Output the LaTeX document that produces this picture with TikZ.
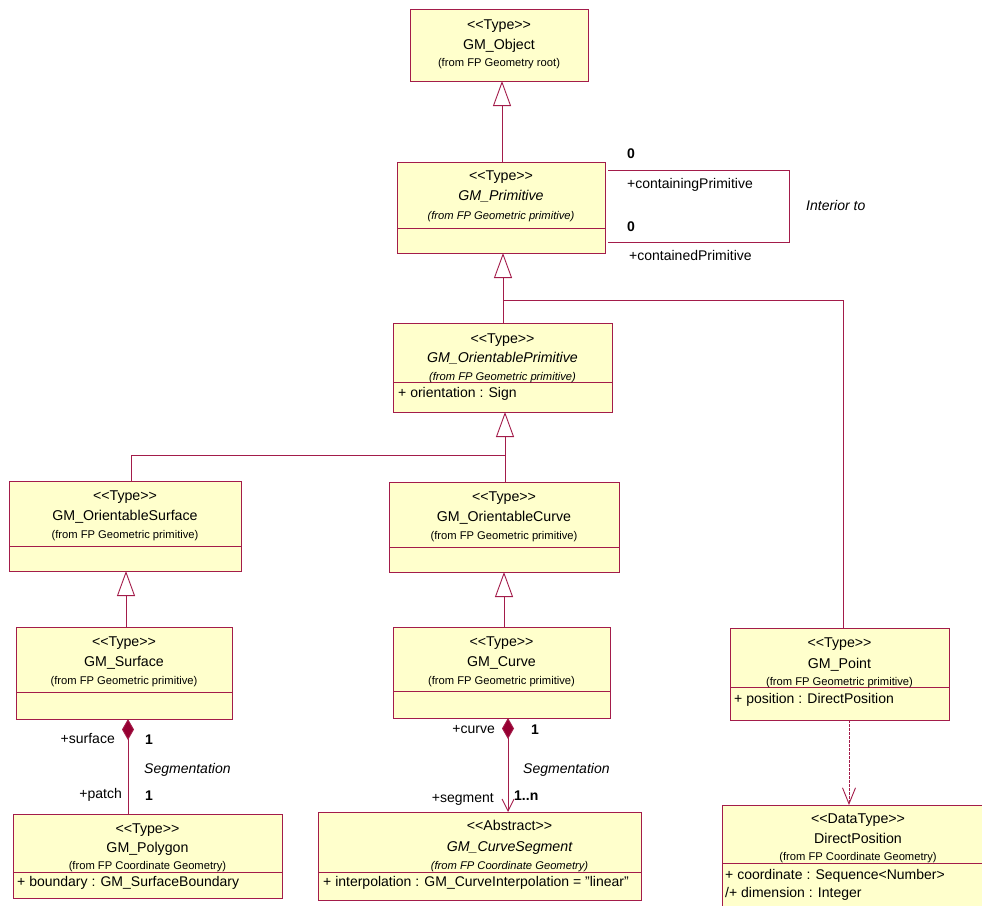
\documentclass[tikz,border=0pt]{standalone}
\usepackage{fontspec}
\setmainfont{Liberation Sans}
\usetikzlibrary{arrows.meta,calc}

\definecolor{umlline}{RGB}{163,28,74}
\definecolor{umlfill}{RGB}{255,255,204}
\definecolor{umldiamond}{RGB}{150,0,50}

% font sizes (1pt = 1 unit of the picture)
\newcommand\ftname{\fontsize{14.2}{16}\selectfont}
\newcommand\ftfrom{\fontsize{11.2}{12}\selectfont}
\newcommand\ftattr{\fontsize{14}{16}\selectfont}
% guillemet-free stereotype brackets
\newcommand\stereo[1]{<\kern0pt<#1>\kern0pt>}

\begin{document}
\begin{tikzpicture}[x=1pt,y=-1pt,
  classbox/.style={draw=umlline,fill=umlfill,line width=1pt,inner sep=0pt,outer sep=0pt,anchor=north west},
  sep/.style={draw=umlline,line width=0.9pt},
  txt/.style={inner sep=0pt,anchor=base},
  txtl/.style={inner sep=0pt,anchor=base west},
  txtr/.style={inner sep=0pt,anchor=base east},
  edge/.style={draw=umlline,line width=0.9pt},
  gen/.style={edge,-{Triangle[length=25pt,width=18pt,fill=white]}},
  compo/.style={edge,{Diamond[length=21pt,width=12pt,fill=umldiamond]}-},
  compnav/.style={edge,{Diamond[length=21pt,width=12pt,fill=umldiamond]}-{Straight Barb[length=12pt,width=12pt]}},
  dep/.style={edge,dash pattern=on 2.5pt off 1.5pt,-{Straight Barb[length=16pt,width=13pt]}},
  mult/.style={txtl,font=\ftattr\bfseries},
  role/.style={font=\ftattr},
]
\useasboundingbox (0,0) rectangle (982,905);
\clip (0,0) rectangle (982,905);

% ---------- class boxes ----------
\node[classbox,minimum width=178,minimum height=72] (obj)    at (410,9)   {};
\node[classbox,minimum width=208,minimum height=91] (prim)   at (397,162) {};
\node[classbox,minimum width=219,minimum height=89] (oprim)  at (393,323) {};
\node[classbox,minimum width=232,minimum height=90] (osurf)  at (9,481)   {};
\node[classbox,minimum width=230,minimum height=90] (ocurve) at (389,482) {};
\node[classbox,minimum width=216,minimum height=92] (surf)   at (16,627)  {};
\node[classbox,minimum width=217,minimum height=91] (curve)  at (393,627) {};
\node[classbox,minimum width=219,minimum height=92] (point)  at (730,628) {};
\node[classbox,minimum width=269,minimum height=84] (poly)   at (13,814)  {};
\node[classbox,minimum width=323,minimum height=88] (cseg)   at (318,812) {};
\node[classbox,minimum width=290,minimum height=130] (dpos)  at (722,805) {};

% compartment separators
\foreach \n/\d in {prim/66,oprim/59,osurf/65,ocurve/65,surf/65,curve/64,point/59,poly/58,cseg/60,dpos/58}
  \draw[sep] ($(\n.north west)+(0,\d)$) -- ($(\n.north east)+(0,\d)$);

% ---------- class texts ----------
\node[txt,font=\ftname] at ($(obj.north)+(0,20)$) {\stereo{Type}};
\node[txt,font=\ftname] at ($(obj.north)+(0,40)$) {GM\_Object};
\node[txt,font=\ftfrom] at ($(obj.north)+(0,57)$) {(from FP Geometry root)};

\node[txt,font=\ftname] at ($(prim.north)+(0,18)$) {\stereo{Type}};
\node[txt,font=\ftname\itshape] at ($(prim.north)+(0,38)$) {GM\_Primitive};
\node[txt,font=\ftfrom\itshape] at ($(prim.north)+(0,57)$) {(from FP Geometric primitive)};

\node[txt,font=\ftname] at ($(oprim.north)+(0,20)$) {\stereo{Type}};
\node[txt,font=\ftname\itshape] at ($(oprim.north)+(0,39)$) {GM\_OrientablePrimitive};
\node[txt,font=\ftfrom\itshape] at ($(oprim.north)+(0,57)$) {(from FP Geometric primitive)};
\node[txtl,font=\ftattr] at ($(oprim.north west)+(5,74)$) {+ orientation : Sign};

\node[txt,font=\ftname] at ($(osurf.north)+(0,19)$) {\stereo{Type}};
\node[txt,font=\ftname] at ($(osurf.north)+(0,39)$) {GM\_OrientableSurface};
\node[txt,font=\ftfrom] at ($(osurf.north)+(0,57)$) {(from FP Geometric primitive)};

\node[txt,font=\ftname] at ($(ocurve.north)+(0,19)$) {\stereo{Type}};
\node[txt,font=\ftname] at ($(ocurve.north)+(0,39)$) {GM\_OrientableCurve};
\node[txt,font=\ftfrom] at ($(ocurve.north)+(0,57)$) {(from FP Geometric primitive)};

\node[txt,font=\ftname] at ($(surf.north)+(0,19)$) {\stereo{Type}};
\node[txt,font=\ftname] at ($(surf.north)+(0,39)$) {GM\_Surface};
\node[txt,font=\ftfrom] at ($(surf.north)+(0,57)$) {(from FP Geometric primitive)};

\node[txt,font=\ftname] at ($(curve.north)+(0,19)$) {\stereo{Type}};
\node[txt,font=\ftname] at ($(curve.north)+(0,39)$) {GM\_Curve};
\node[txt,font=\ftfrom] at ($(curve.north)+(0,57)$) {(from FP Geometric primitive)};

\node[txt,font=\ftname] at ($(point.north)+(0,19)$) {\stereo{Type}};
\node[txt,font=\ftname] at ($(point.north)+(0,40)$) {GM\_Point};
\node[txt,font=\ftfrom] at ($(point.north)+(0,57)$) {(from FP Geometric primitive)};
\node[txtl,font=\ftattr] at ($(point.north west)+(4,75)$) {+ position : DirectPosition};

\node[txt,font=\ftname] at ($(poly.north)+(0,19)$) {\stereo{Type}};
\node[txt,font=\ftname] at ($(poly.north)+(0,38)$) {GM\_Polygon};
\node[txt,font=\ftfrom] at ($(poly.north)+(0,55)$) {(from FP Coordinate Geometry)};
\node[txtl,font=\ftattr] at ($(poly.north west)+(4,72)$) {+ boundary : GM\_SurfaceBoundary};

\node[txt,font=\ftname] at ($(cseg.north)+(30,18)$) {\stereo{Abstract}};
\node[txt,font=\ftname\itshape] at ($(cseg.north)+(30,39)$) {GM\_CurveSegment};
\node[txt,font=\ftfrom\itshape] at ($(cseg.north)+(30,57)$) {(from FP Coordinate Geometry)};
\node[txtl,font=\ftattr] at ($(cseg.north west)+(5,74)$) {+ interpolation : GM\_CurveInterpolation = \char34 linear\char34};

\node[txt,font=\ftname] at ($(dpos.north west)+(136,18)$) {\stereo{DataType}};
\node[txt,font=\ftname] at ($(dpos.north west)+(136,38)$) {DirectPosition};
\node[txt,font=\ftfrom] at ($(dpos.north west)+(136,55)$) {(from FP Coordinate Geometry)};
\node[txtl,font=\ftattr] at ($(dpos.north west)+(3,74)$) {+ coordinate : Sequence<Number>};
\node[txtl,font=\ftattr] at ($(dpos.north west)+(3,92)$) {/+ dimension : Integer};

% ---------- connector axes ----------
\coordinate (axA) at (502,0);
\coordinate (axB) at (503,0);
\coordinate (axC) at (505,0);
\coordinate (axU) at (504,0);
\coordinate (axS) at (126,0);
\coordinate (axT) at (131,0);
\coordinate (axP) at (843,0);
\coordinate (axK) at (128,0);
\coordinate (axQ) at (508,0);
\coordinate (axD) at (849,0);
\coordinate (jnP) at (503,300);
\coordinate (jnS) at (505,455);
\coordinate (loopA) at (789,170);
\coordinate (loopB) at (789,242);

% generalizations
\draw[gen] (axA |- prim.north) -- (axA |- obj.south);
\draw[gen] (axB |- oprim.north) -- (axB |- prim.south);
\draw[edge] (axP |- point.north) -- (axP |- jnP) -- (jnP);
\draw[gen] (axC |- ocurve.north) -- (axC |- oprim.south);
\draw[edge] (axT |- osurf.north) -- (axT |- jnS) -- (jnS);
\draw[gen] (axS |- surf.north) -- (axS |- osurf.south);
\draw[gen] (axU |- curve.north) -- (axU |- ocurve.south);

% compositions
\draw[compo] (axK |- surf.south) -- (axK |- poly.north);
\draw[compnav] (axQ |- curve.south) -- (axQ |- cseg.north);

% dependency
\draw[dep] (axD |- point.south) -- (axD |- dpos.north);

% reflexive association
\draw[edge] ($(prim.east |- loopA)+(3,0)$) -- (loopA) -- (loopB) -- ($(prim.east |- loopB)+(3,0)$);

% ---------- association labels ----------
\node[mult] at (627,158) {0};
\node[txtl,role] at (627,188) {+containingPrimitive};
\node[mult] at (627,231) {0};
\node[txtl,role] at (629,260) {+containedPrimitive};
\node[txtl,font=\ftattr\itshape] at (806,210) {Interior to};

\node[txtr,role] at (115,743) {+surface};
\node[mult] at (145,744) {1};
\node[txtl,font=\ftattr\itshape] at (144,773) {Segmentation};
\node[txtr,role] at (122,798) {+patch};
\node[mult] at (145,800) {1};

\node[txtr,role] at (495,733) {+curve};
\node[mult] at (531,734) {1};
\node[txtl,font=\ftattr\itshape] at (523,773) {Segmentation};
\node[txtr,role] at (494,802) {+segment};
\node[mult] at (514,800) {1..n};
\end{tikzpicture}
\end{document}
